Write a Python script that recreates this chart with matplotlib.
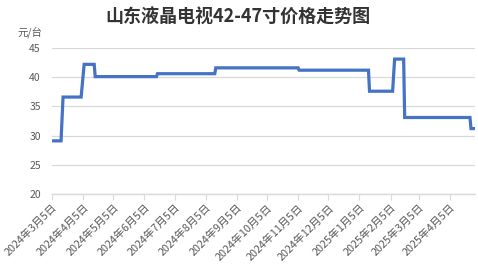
import matplotlib
matplotlib.use("Agg")
import matplotlib.pyplot as plt
import matplotlib.dates as mdates
import pandas as pd

plt.rcParams['font.family'] = ['Noto Sans CJK SC', 'DejaVu Sans']

title = "山东液晶电视42-47寸价格走势图"
unit_label = "元/台"

# price points (dates where the price changes)
dates = ["2024-03-05", "2024-03-14", "2024-03-16", "2024-04-03", "2024-04-06",
         "2024-04-16", "2024-04-17", "2024-06-17", "2024-06-18", "2024-08-14",
         "2024-08-15", "2024-11-05", "2024-11-06", "2025-01-14", "2025-01-15",
         "2025-02-07", "2025-02-09", "2025-02-18", "2025-02-19", "2025-04-25",
         "2025-04-26", "2025-04-30"]
prices = [29.1, 29.1, 36.6, 36.6, 42.2,
          42.2, 40.1, 40.1, 40.6, 40.6,
          41.6, 41.6, 41.2, 41.2, 37.6,
          37.6, 43.1, 43.1, 33.1, 33.1,
          31.2, 31.2]

tick_dates = ["2024-03-05", "2024-04-05", "2024-05-05", "2024-06-05", "2024-07-05",
              "2024-08-05", "2024-09-05", "2024-10-05", "2024-11-05", "2024-12-05",
              "2025-01-05", "2025-02-05", "2025-03-05", "2025-04-05"]
tick_labels = ["2024年3月5日", "2024年4月5日", "2024年5月5日", "2024年6月5日", "2024年7月5日",
               "2024年8月5日", "2024年9月5日", "2024年10月5日", "2024年11月5日", "2024年12月5日",
               "2025年1月5日", "2025年2月5日", "2025年3月5日", "2025年4月5日"]
y_ticks = [20, 25, 30, 35, 40, 45]

x = pd.to_datetime(dates)
fig = plt.figure(figsize=(4.78, 2.73), dpi=100)
ax = fig.add_axes([52/478, 79/273, (475-52)/478, (194-48)/273])

ax.plot(x, prices, color="#4472C4", linewidth=2.3, solid_joinstyle="miter")

ax.set_ylim(20, 45)
ax.set_yticks(y_ticks)
ax.set_xlim(pd.Timestamp("2024-03-05"), pd.Timestamp("2025-04-30"))
ax.set_xticks(pd.to_datetime(tick_dates))
ax.set_xticklabels(tick_labels, rotation=45, ha="right", rotation_mode="anchor")

ax.grid(axis="y", color="#d9d9d9", linewidth=0.9)
ax.set_axisbelow(True)
for s in ["top", "right", "left"]:
    ax.spines[s].set_visible(False)
ax.spines["bottom"].set_color("#d9d9d9")
ax.spines["bottom"].set_linewidth(1.0)

ax.tick_params(axis="y", length=0, labelsize=7.5, labelcolor="#595959", pad=8)
ax.tick_params(axis="x", length=4, color="#d9d9d9", labelsize=7.8, labelcolor="#595959", pad=2)

fig.text(238/478, 1 - 17/273, title, ha="center", va="center", fontsize=13,
         fontweight="bold", color="#333333")
fig.text(30/478, 1 - 32/273, unit_label, ha="center", va="center", fontsize=7.5,
         color="#595959")

fig.savefig("out.png", dpi=100)
